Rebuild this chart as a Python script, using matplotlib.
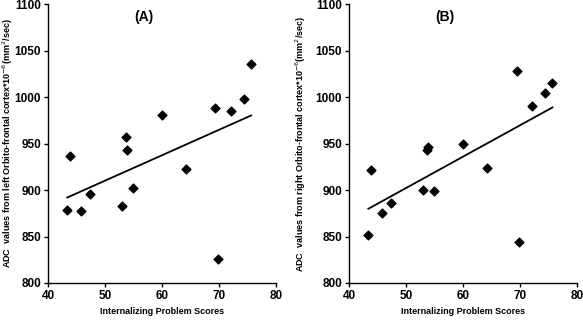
import matplotlib
matplotlib.use("Agg")
import matplotlib.pyplot as plt
import numpy as np

plt.rcParams['font.family'] = ['Liberation Sans', 'DejaVu Sans']

# Internalizing problem scores (same subjects in both panels)
scores = [43.4, 43.9, 45.8, 47.3, 53.0, 53.7, 53.9, 55.0, 60.0, 64.3, 69.4, 69.8, 72.2, 74.4, 75.7]

# ADC values, left and right orbito-frontal cortex
adc_left = [879, 937, 877, 896, 883, 957, 943, 902, 981, 923, 988, 826, 985, 998, 1035]
adc_right = [852, 921, 875, 886, 900, 943, 946, 899, 949, 924, 1028, 844, 990, 1004, 1015]

panel_titles = ["(A)", "(B)"]
ylabels = [
    r"ADC  values from left Orbito-frontal cortex*10$^{-6}$(mm$^{2}$/sec)",
    r"ADC  values from right Orbito-frontal cortex*10$^{-6}$(mm$^{2}$/sec)",
]
label_x = [-0.175, -0.21]

fig = plt.figure(figsize=(5.83, 3.21), dpi=100)
ax_a = fig.add_axes([0.0823, 0.1184, 0.3906, 0.869])
ax_b = fig.add_axes([0.5986, 0.1184, 0.391, 0.869])

for ax, yvals, title, ylab, lx in zip([ax_a, ax_b], [adc_left, adc_right], panel_titles, ylabels, label_x):
    x = np.array(scores)
    y = np.array(yvals)
    ax.scatter(x, y, marker='D', s=20, color='black', zorder=3)

    # linear trend line over data range
    k, b = np.polyfit(x, y, 1)
    xs = np.array([x.min(), x.max()])
    ax.plot(xs, k * xs + b, color='black', lw=1.3)

    ax.set_xlim(40, 80)
    ax.set_ylim(800, 1100)
    ax.set_xticks([40, 50, 60, 70, 80])
    ax.set_yticks([800, 850, 900, 950, 1000, 1050, 1100])
    for side in ['top', 'right']:
        ax.spines[side].set_visible(False)
    for side in ['left', 'bottom']:
        ax.spines[side].set_linewidth(1.0)
    ax.tick_params(direction='out', length=3, width=1, labelsize=8.5, pad=2)
    for lab in ax.get_xticklabels() + ax.get_yticklabels():
        lab.set_fontweight('bold')

    ax.set_xlabel("Internalizing Problem Scores", fontsize=6.5, fontweight='bold', labelpad=4)
    ax.set_ylabel(ylab, fontsize=6.5, fontweight='bold', va='center')
    ax.yaxis.set_label_coords(lx, 0.5)
    ax.text(0.42, 0.955, title, transform=ax.transAxes, fontsize=10, fontweight='bold',
            ha='center', va='center')

fig.savefig("out.png", dpi=100)
